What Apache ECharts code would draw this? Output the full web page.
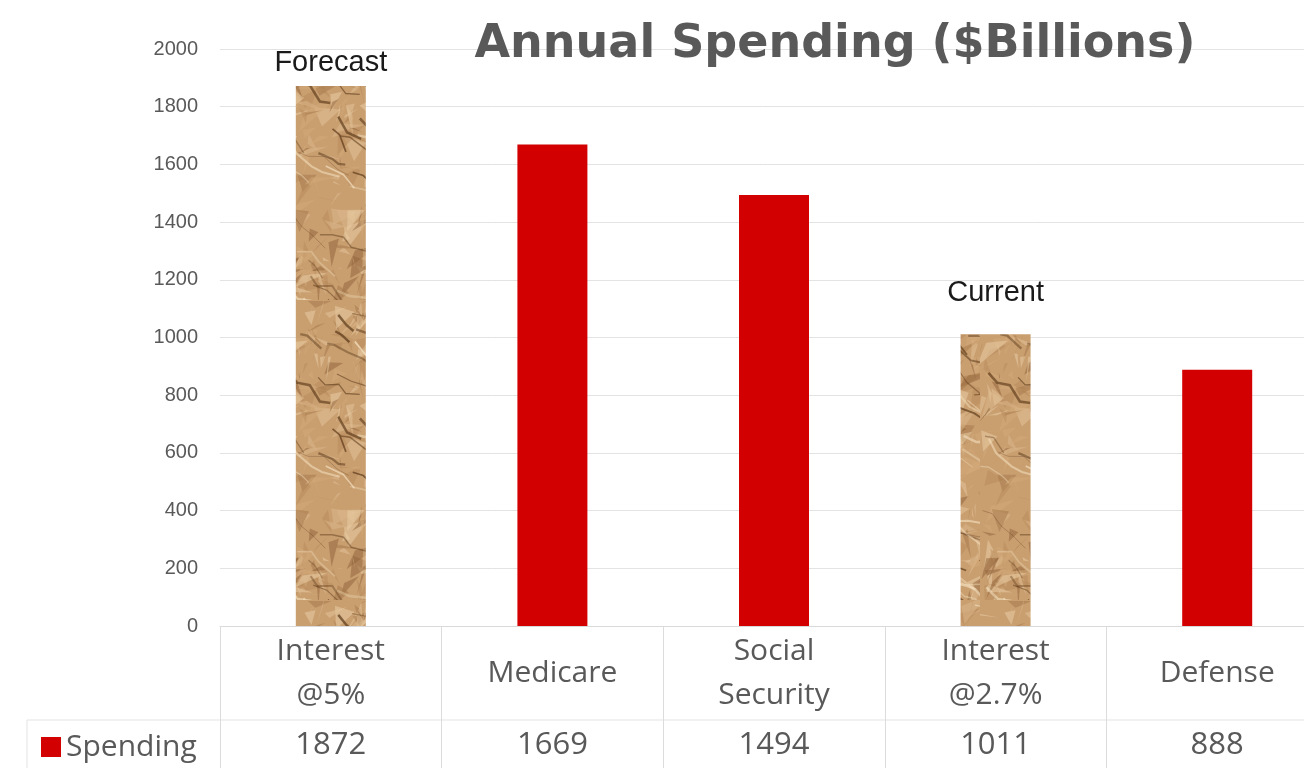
<!DOCTYPE html>
<html>
<head>
<meta charset="utf-8">
<script src="https://cdn.jsdelivr.net/npm/echarts@6/dist/echarts.min.js"></script>
<style>html,body{margin:0;padding:0;background:#fff}#c{width:1304px;height:768px}</style>
</head>
<body>
<div id="c"></div>
<script>
// ---- data ----
const categories = ['Interest\n@5%', 'Medicare', 'Social\nSecurity', 'Interest\n@2.7%', 'Defense'];
const spending = [1872, 1669, 1494, 1011, 888];
const textured = [true, false, false, true, false];
const annotations = ['Forecast', '', '', 'Current', ''];
const annotationGap = [8, 0, 0, 27, 0];
const yTicks = [0, 200, 400, 600, 800, 1000, 1200, 1400, 1600, 1800, 2000];
const seriesName = 'Spending';
const titleText = 'Annual Spending ($Billions)';

// ---- crumpled paper texture (decoration only) ----
function makePaper() {
  const w = 140, h = 300;
  const cv = document.createElement('canvas');
  cv.width = w; cv.height = h;
  const g = cv.getContext('2d');
  let s = 12345;
  const rnd = () => { s = (s * 16807) % 2147483647; return (s - 1) / 2147483646; };
  g.fillStyle = '#c99f70';
  g.fillRect(0, 0, w, h);
  const shades = ['#dcb88b', '#b88a5a', '#e6c69c', '#a47548', '#d3aa7a', '#8f6238', '#ecd0a8'];
  for (let i = 0; i < 320; i++) {
    const x = rnd() * w, y = rnd() * h;
    g.fillStyle = shades[Math.floor(rnd() * shades.length)];
    g.globalAlpha = 0.5;
    g.beginPath();
    g.moveTo(x, y);
    g.lineTo(x + (rnd() - 0.2) * 34, y + (rnd() - 0.5) * 22);
    g.lineTo(x + (rnd() - 0.5) * 22, y + (rnd() - 0.1) * 30);
    g.closePath();
    g.fill();
  }
  for (let i = 0; i < 60; i++) {
    let x = rnd() * w, y = rnd() * h;
    g.globalAlpha = 0.3 + rnd() * 0.45;
    g.strokeStyle = rnd() < 0.7 ? '#5a3818' : '#f4e0bf';
    g.lineWidth = 0.8 + rnd() * 1.8;
    g.beginPath();
    g.moveTo(x, y);
    const segs = 2 + Math.floor(rnd() * 3);
    for (let k = 0; k < segs; k++) {
      x += 6 + rnd() * 12; y += 5 + rnd() * 12 * (rnd() < 0.6 ? 1 : -0.5);
      g.lineTo(x, y);
    }
    g.stroke();
  }
  g.globalAlpha = 1;
  return cv;
}
const paper = { image: makePaper(), repeat: 'repeat' };

const chart = echarts.init(document.getElementById('c'));

const barData = spending.map((v, i) => {
  const item = { value: v };
  if (textured[i]) item.itemStyle = { color: paper };
  if (annotations[i]) {
    item.label = {
      show: true, position: 'top', distance: annotationGap[i],
      formatter: annotations[i], fontSize: 29, color: '#1a1a1a',
      fontFamily: 'Liberation Sans, Arial, sans-serif'
    };
  }
  return item;
});

const gridLeft = 220, gridTop = 49, gridW = 1108, gridH = 577;

chart.setOption({
  animation: false,
  title: {
    text: titleText, left: 830, top: 17, textAlign: 'center',
    textStyle: { fontSize: 46, fontWeight: 'bold', color: '#595959', fontFamily: 'DejaVu Sans, sans-serif' }
  },
  legend: {
    data: [seriesName], left: 36, top: 727, icon: 'rect', itemWidth: 20, itemHeight: 20,
    textStyle: { fontSize: 30, color: '#595959', fontFamily: 'Open Sans, sans-serif' }
  },
  grid: { left: gridLeft, top: gridTop, width: gridW, height: gridH, outerBoundsMode: 'none', containLabel: false },
  xAxis: [{
    type: 'category', data: categories, position: 'bottom',
    axisLine: { show: true, lineStyle: { color: '#d9d9d9', width: 1 } },
    axisTick: { show: true, length: 142, lineStyle: { color: '#dcdcdc' } },
    axisLabel: {
      interval: 0, margin: 47, verticalAlign: 'middle', fontSize: 30, lineHeight: 44,
      color: '#595959', fontFamily: 'Open Sans, sans-serif'
    }
  }, {
    type: 'category', data: spending.map(String), position: 'bottom', offset: 0,
    axisLine: { show: false }, axisTick: { show: false },
    axisLabel: {
      interval: 0, margin: 119, verticalAlign: 'middle', fontSize: 31,
      color: '#595959', fontFamily: 'Open Sans, sans-serif'
    }
  }],
  yAxis: {
    type: 'value', min: yTicks[0], max: yTicks[yTicks.length - 1], interval: yTicks[1] - yTicks[0],
    axisLine: { show: false }, axisTick: { show: false },
    axisLabel: { margin: 22, fontSize: 20, color: '#595959', fontFamily: 'Liberation Sans, Arial, sans-serif',
      formatter: v => String(v) },
    splitLine: { lineStyle: { color: '#e3e3e3', width: 1 } }
  },
  series: [{
    name: seriesName, type: 'bar', xAxisIndex: 0, barWidth: 70,
    itemStyle: { color: '#d20000' },
    data: barData
  }],
  graphic: [
    { type: 'line', shape: { x1: 27, y1: 720, x2: 1304, y2: 720 }, style: { stroke: '#e3e3e3', lineWidth: 1 } },
    { type: 'line', shape: { x1: 27, y1: 720, x2: 27, y2: 768 }, style: { stroke: '#e3e3e3', lineWidth: 1 } }
  ]
});
</script>
</body>
</html>
